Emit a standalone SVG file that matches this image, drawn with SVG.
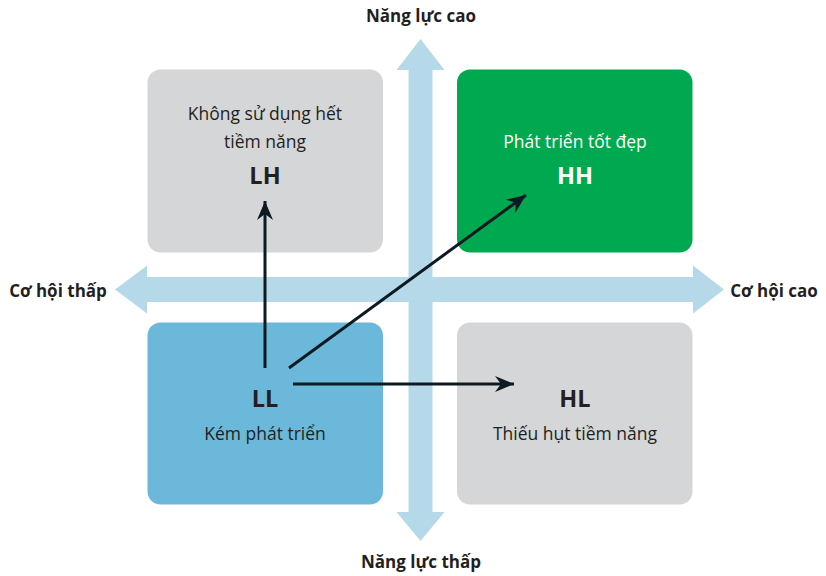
<svg xmlns="http://www.w3.org/2000/svg" width="826" height="576" viewBox="0 0 826 576">
<style>
.axis{fill:#b6d9ea}
.t{font-family:"Open Sans","Liberation Sans",sans-serif;fill:#231f20;text-anchor:middle}
.lab{font-size:17px;font-weight:bold}
.body{font-size:17.5px}
.code{font-size:23.5px;font-weight:bold}
.w{fill:#ffffff}
.conn{stroke:#0d1a22;stroke-width:3;fill:none;marker-end:url(#ah)}
</style>
<defs>
<marker id="ah" markerUnits="userSpaceOnUse" markerWidth="24" markerHeight="20" viewBox="-20 -10 24 20" refX="0" refY="0" orient="auto">
<path d="M0,0 L-19,-8 L-13,0 L-19,8 Z" fill="#0d1a22"/>
</marker>
</defs>
<rect width="826" height="576" fill="#ffffff"/>
<g id="axes">
<polygon class="axis" points="420.5,39 444.5,70 432.5,70 432.5,512 444.5,512 420.5,541 396.5,512 408.5,512 408.5,70 396.5,70"/>
<polygon class="axis" points="115,289.5 147,265.5 147,277 693,277 693,265.5 724,289.5 693,313.5 693,302 147,302 147,313.5"/>
</g>
<g id="axis-labels">
<text class="t lab" x="421" y="22">Năng lực cao</text>
<text class="t lab" x="421" y="568">Năng lực thấp</text>
<text class="t lab" x="58" y="297">Cơ hội thấp</text>
<text class="t lab" x="774" y="297">Cơ hội cao</text>
</g>
<g id="LH">
<rect x="147.5" y="69.5" width="235.5" height="183" rx="13" fill="#d5d6d8"/>
<text class="t body" x="265" y="120">Không sử dụng hết</text>
<text class="t body" x="265" y="148">tiềm năng</text>
<text class="t code" x="265" y="184">LH</text>
</g>
<g id="HH">
<rect x="457" y="69.5" width="235.5" height="183" rx="13" fill="#00a94f"/>
<text class="t body w" x="575" y="148">Phát triển tốt đẹp</text>
<text class="t code w" x="575" y="184">HH</text>
</g>
<g id="LL">
<rect x="147.5" y="322.5" width="235.5" height="182" rx="13" fill="#6cb8da"/>
<text class="t code" x="265" y="407">LL</text>
<text class="t body" x="265" y="440">Kém phát triển</text>
</g>
<g id="HL">
<rect x="457" y="322.5" width="235.5" height="182" rx="13" fill="#d5d6d8"/>
<text class="t code" x="575" y="407">HL</text>
<text class="t body" x="575" y="440">Thiếu hụt tiềm năng</text>
</g>
<g id="connectors">
<line class="conn" x1="265" y1="368" x2="265" y2="201"/>
<line class="conn" x1="289" y1="368" x2="526" y2="195"/>
<line class="conn" x1="293" y1="384" x2="514" y2="384"/>
</g>
</svg>
